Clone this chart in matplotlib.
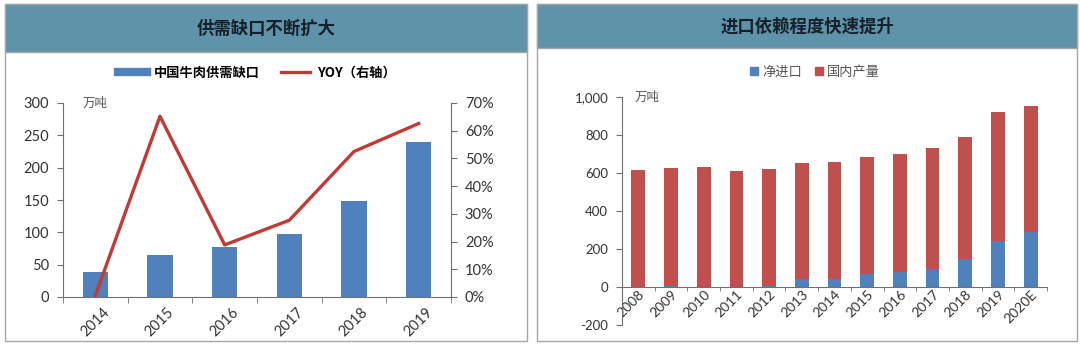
import matplotlib
matplotlib.use("Agg")
import matplotlib.pyplot as plt
import matplotlib.ticker as mticker
from matplotlib.patches import Rectangle, Patch
from matplotlib.lines import Line2D
import numpy as np

plt.rcParams["font.family"] = ["Noto Sans CJK SC", "DejaVu Sans"]

# ── Data ──────────────────────────────────────────────────────────────────────
gap_years = ["2014", "2015", "2016", "2017", "2018", "2019"]
gap_values = [39, 65, 77, 98, 148, 240]          # 万吨
yoy_values = [0.005, 0.652, 0.188, 0.277, 0.525, 0.626]

imp_years = ["2008", "2009", "2010", "2011", "2012", "2013", "2014",
             "2015", "2016", "2017", "2018", "2019", "2020E"]
net_import = [-3, 3, 2, 1, 5, 40, 40, 66, 79, 96, 149, 240, 288]
domestic = [617, 623, 627, 611, 616, 610, 616, 616, 620, 635, 643, 683, 665]

BLUE = "#4f81bd"
RED = "#c0504d"
LINE_RED = "#c23a36"
HEADER = "#5e93aa"
BORDER = "#a6a6a6"
AXIS = "#707070"
TXT = "#333333"
W, H = 1080, 345


def fx(x):
    return x / W


def fy(y):
    return 1 - y / H


fig = plt.figure(figsize=(10.8, 3.45), dpi=100)

# ── Panel frames and headers ──────────────────────────────────────────────────
panels = [(5, 4, 527, 341, 52, "供需缺口不断扩大"),
          (537, 4, 1077, 341, 48, "进口依赖程度快速提升")]
for x0, y0, x1, y1, hb, title in panels:
    fig.patches.append(Rectangle((fx(x0), fy(y1)), fx(x1 - x0), (y1 - y0) / H,
                                 transform=fig.transFigure, facecolor="white",
                                 edgecolor=BORDER, linewidth=1, zorder=-10))
    fig.patches.append(Rectangle((fx(x0), fy(hb)), fx(x1 - x0), (hb - y0) / H,
                                 transform=fig.transFigure, facecolor=HEADER,
                                 edgecolor=BORDER, linewidth=1, zorder=-9))
    fig.text(fx((x0 + x1) / 2), fy((y0 + hb) / 2 + 1), title, ha="center",
             va="center", fontsize=12.5, color="#15202a", fontweight="bold")

# ── Left chart: 供需缺口 ──────────────────────────────────────────────────────
ax1 = fig.add_axes([fx(63), fy(297), fx(451 - 63), (297 - 103) / H])
ax1.patch.set_visible(False)
x = np.arange(len(gap_years))
ax1.bar(x, gap_values, width=0.39, color=BLUE, zorder=2)
ax1.set_xlim(-0.5, len(gap_years) - 0.5)
ax1.set_ylim(0, 300)
ax1.set_yticks(range(0, 301, 50))
ax1.set_xticks(x)
ax1.set_xticklabels(gap_years, rotation=45, ha="center", va="top",
                    fontsize=10.5, color=TXT, family=["Lato", "DejaVu Sans"])
ax1.set_xticks(np.arange(-0.5, len(gap_years), 1), minor=True)
ax1.tick_params(axis="x", which="major", length=0, pad=6)
ax1.tick_params(axis="x", which="minor", length=4, color=AXIS, direction="out")
ax1.tick_params(axis="y", length=4, color=AXIS, labelsize=10.5, labelcolor=TXT, pad=6)
for lbl in ax1.get_yticklabels():
    lbl.set_family(["Lato", "DejaVu Sans"])
for s in ("top", "right"):
    ax1.spines[s].set_visible(False)
for s in ("left", "bottom"):
    ax1.spines[s].set_color(AXIS)

ax2 = ax1.twinx()
ax2.patch.set_visible(False)
ax2.plot(x, yoy_values, color=LINE_RED, linewidth=2.4, zorder=3)
ax2.set_ylim(0, 0.7)
ax2.set_yticks(np.arange(0, 0.71, 0.1))
ax2.yaxis.set_major_formatter(mticker.FuncFormatter(lambda v, _: f"{v * 100:.0f}%"))
ax2.tick_params(axis="y", length=4, color=AXIS, labelsize=10.5, labelcolor=TXT, pad=6)
for lbl in ax2.get_yticklabels():
    lbl.set_family(["Lato", "DejaVu Sans"])
for s in ("top", "left", "bottom"):
    ax2.spines[s].set_visible(False)
ax2.spines["right"].set_color(AXIS)

fig.text(fx(83), fy(103), "万吨", fontsize=9, color="#555555", va="center")

handles1 = [Line2D([0], [0], color=BLUE, linewidth=6),
            Line2D([0], [0], color=LINE_RED, linewidth=2.4)]
fig.legend(handles1, ["中国牛肉供需缺口", "YOY（右轴）"], ncol=2,
           loc="center", bbox_to_anchor=(fx(257), fy(73)), frameon=False,
           handlelength=2.2, handletextpad=0.5, columnspacing=1.6,
           prop={"size": 9.5, "weight": "bold"})

# ── Right chart: 进口依赖 ─────────────────────────────────────────────────────
ax3 = fig.add_axes([fx(622), fy(325), fx(1047 - 622), (325 - 97) / H])
ax3.patch.set_visible(False)
xi = np.arange(len(imp_years))
imp = np.array(net_import)
ax3.bar(xi, imp, width=0.42, color=BLUE, zorder=2)
ax3.bar(xi, domestic, bottom=np.clip(imp, 0, None), width=0.42, color=RED, zorder=2)
ax3.set_xlim(-0.5, len(imp_years) - 0.5)
ax3.set_ylim(-200, 1000)
ax3.set_yticks(range(-200, 1001, 200))
ax3.yaxis.set_major_formatter(mticker.FuncFormatter(lambda v, _: f"{v:,.0f}"))
ax3.spines["bottom"].set_position(("data", 0))
for s in ("top", "right"):
    ax3.spines[s].set_visible(False)
for s in ("left", "bottom"):
    ax3.spines[s].set_color(AXIS)
ax3.set_xticks(xi)
ax3.set_xticklabels(imp_years, rotation=45, ha="right", va="top",
                    rotation_mode="anchor", fontsize=10, color=TXT,
                    family=["Lato", "DejaVu Sans"])
ax3.set_xticks(np.arange(-0.5, len(imp_years), 1), minor=True)
ax3.tick_params(axis="x", which="major", length=0, pad=1)
ax3.tick_params(axis="x", which="minor", length=3, color=AXIS, direction="out")
ax3.tick_params(axis="y", length=4, color=AXIS, labelsize=9.5, labelcolor=TXT, pad=6)
for lbl in ax3.get_yticklabels():
    lbl.set_family(["Lato", "DejaVu Sans"])

fig.text(fx(635), fy(97), "万吨", fontsize=9, color="#555555", va="center")

handles3 = [Patch(color=BLUE), Patch(color=RED)]
fig.legend(handles3, ["净进口", "国内产量"], ncol=2, loc="center",
           bbox_to_anchor=(fx(815), fy(72)), frameon=False,
           handlelength=0.6, handleheight=0.6, handletextpad=0.3,
           columnspacing=1.0, labelcolor="#555555", prop={"size": 9.5})

fig.savefig("out.png", dpi=100)
